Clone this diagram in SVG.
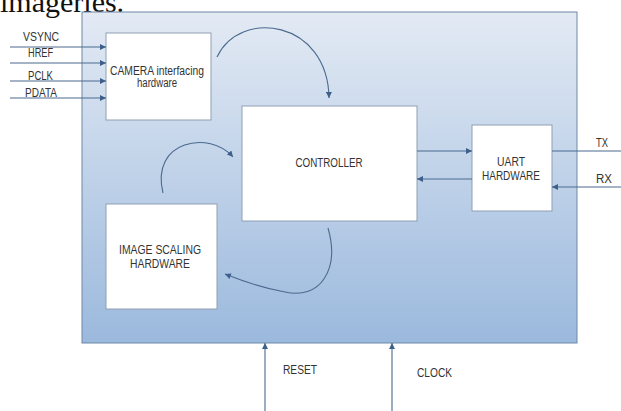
<svg xmlns="http://www.w3.org/2000/svg" width="621" height="411" viewBox="0 0 621 411">
<style>
.lbl{font-family:"Liberation Sans",Arial,sans-serif;font-size:12px;fill:#333;}
.box{fill:#ffffff;stroke:#8f9fb3;stroke-width:1;}
.ln{fill:none;stroke:#4b6a8e;stroke-width:1.1;}
</style>
<defs>
<linearGradient id="bg" x1="0" y1="0" x2="0" y2="1">
<stop offset="0" stop-color="#e3eaf4"/>
<stop offset="1" stop-color="#9bb9dd"/>
</linearGradient>
<marker id="ah" viewBox="0 0 10 10" refX="10" refY="5" markerWidth="6" markerHeight="6" markerUnits="userSpaceOnUse" orient="auto">
<path d="M0,0 L10,5 L0,10 z" fill="#3d5f8a"/>
</marker>
</defs>
<rect width="621" height="411" fill="#ffffff"/>
<text x="0" y="12" font-family="Liberation Serif,serif" font-size="30" fill="#111">imageries.</text>
<g id="system">
<rect x="82" y="12" width="495" height="331" fill="url(#bg)" stroke="#6f88a6" stroke-width="1"/>
</g>
<g id="camera">
<rect class="box" x="106" y="33" width="105" height="87"/>
<text class="lbl" x="157" y="75" text-anchor="middle" textLength="94" lengthAdjust="spacingAndGlyphs">CAMERA interfacing</text>
<text class="lbl" x="157" y="87" text-anchor="middle" textLength="40" lengthAdjust="spacingAndGlyphs">hardware</text>
</g>
<g id="controller">
<rect class="box" x="242" y="106" width="175" height="115"/>
<text class="lbl" x="329" y="167" text-anchor="middle" textLength="67" lengthAdjust="spacingAndGlyphs">CONTROLLER</text>
</g>
<g id="uart">
<rect class="box" x="472" y="125" width="80" height="86"/>
<text class="lbl" x="511" y="166" text-anchor="middle" textLength="28" lengthAdjust="spacingAndGlyphs">UART</text>
<text class="lbl" x="511" y="180" text-anchor="middle" textLength="58" lengthAdjust="spacingAndGlyphs">HARDWARE</text>
</g>
<g id="scaling">
<rect class="box" x="106" y="204" width="111" height="105"/>
<text class="lbl" x="160" y="254" text-anchor="middle" textLength="82" lengthAdjust="spacingAndGlyphs">IMAGE SCALING</text>
<text class="lbl" x="160" y="268" text-anchor="middle" textLength="60" lengthAdjust="spacingAndGlyphs">HARDWARE</text>
</g>
<g id="labels">
<text class="lbl" x="41" y="41" text-anchor="middle" textLength="36" lengthAdjust="spacingAndGlyphs">VSYNC</text>
<text class="lbl" x="40.5" y="57" text-anchor="middle" textLength="25" lengthAdjust="spacingAndGlyphs">HREF</text>
<text class="lbl" x="40.5" y="80" text-anchor="middle" textLength="25" lengthAdjust="spacingAndGlyphs">PCLK</text>
<text class="lbl" x="41" y="97" text-anchor="middle" textLength="32" lengthAdjust="spacingAndGlyphs">PDATA</text>
<text class="lbl" x="602" y="147" text-anchor="middle" textLength="12" lengthAdjust="spacingAndGlyphs">TX</text>
<text class="lbl" x="604" y="183" text-anchor="middle" textLength="16" lengthAdjust="spacingAndGlyphs">RX</text>
<text class="lbl" x="283" y="374" textLength="34" lengthAdjust="spacingAndGlyphs">RESET</text>
<text class="lbl" x="417" y="377" textLength="35" lengthAdjust="spacingAndGlyphs">CLOCK</text>
</g>
<g id="connectors">
<line class="ln" x1="10" y1="47" x2="106" y2="47" marker-end="url(#ah)"/>
<line class="ln" x1="10" y1="63" x2="106" y2="63" marker-end="url(#ah)"/>
<line class="ln" x1="10" y1="81" x2="106" y2="81" marker-end="url(#ah)"/>
<line class="ln" x1="10" y1="98" x2="106" y2="98" marker-end="url(#ah)"/>
<path class="ln" d="M217,57 C240,8 328,20 329,98" marker-end="url(#ah)"/>
<path class="ln" d="M163,193 C150,140 210,130 233,157" marker-end="url(#ah)"/>
<path class="ln" d="M328,228 C340,270 320,300 285,292 C262,288 240,280 225,274" marker-end="url(#ah)"/>
<line class="ln" x1="417" y1="151" x2="472" y2="151" marker-end="url(#ah)"/>
<line class="ln" x1="472" y1="179" x2="417" y2="179" marker-end="url(#ah)"/>
<line class="ln" x1="552" y1="151" x2="621" y2="151"/>
<line class="ln" x1="621" y1="187" x2="552" y2="187" marker-end="url(#ah)"/>
<line class="ln" x1="265" y1="411" x2="265" y2="343" marker-end="url(#ah)"/>
<line class="ln" x1="392" y1="411" x2="392" y2="343" marker-end="url(#ah)"/>
</g>
</svg>
